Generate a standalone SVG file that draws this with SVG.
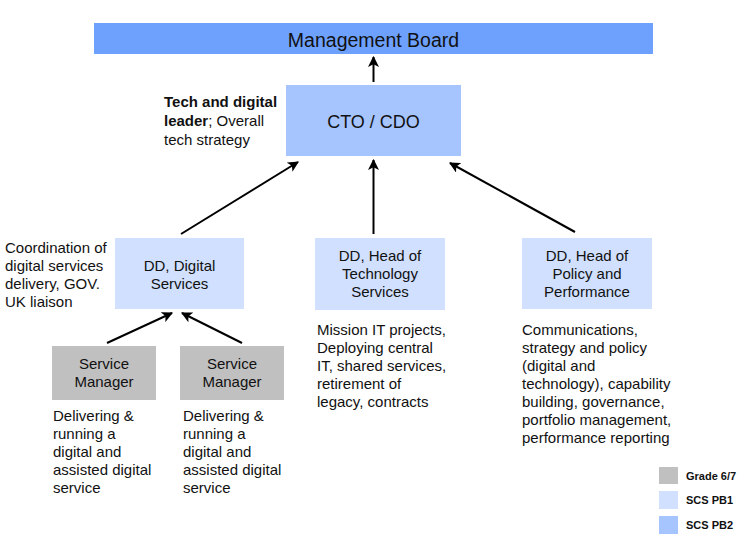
<svg xmlns="http://www.w3.org/2000/svg" width="751" height="545" viewBox="0 0 751 545">
<style>
  text { font-family: "Liberation Sans", Arial, sans-serif; fill: #111; }
  .t14 { font-size: 15px; }
  .c { text-anchor: middle; }
  .pb2 { fill: #a6c4fe; }
  .pb1 { fill: #d0e0fe; }
  .g67 { fill: #c0c0c0; }
  .mb { fill: #6ea1fe; }
  .conn line { stroke: #000; stroke-width: 2; marker-end: url(#ah); }
  .leg { font-size: 11px; font-weight: bold; }
</style>
<defs>
  <marker id="ah" viewBox="0 0 10 10" refX="9" refY="5" markerWidth="5.5" markerHeight="5.5" orient="auto" markerUnits="strokeWidth">
    <path d="M0,0 L10,5 L0,10 L2.5,5 Z" fill="#000"/>
  </marker>
</defs>
<rect width="751" height="545" fill="#fff"/>

<g id="management-board">
  <rect class="mb" x="94" y="23" width="559" height="31"/>
  <text class="c" x="373.5" y="46.5" font-size="19.5">Management Board</text>
</g>

<g id="cto-cdo">
  <rect class="pb2" x="286" y="85" width="175" height="71"/>
  <text class="c" x="373.5" y="128" font-size="18">CTO / CDO</text>
</g>
<g id="cto-note">
  <text class="t14" x="164" y="107"><tspan font-weight="bold">Tech and digital</tspan></text>
  <text class="t14" x="164" y="126"><tspan font-weight="bold">leader</tspan>; Overall</text>
  <text class="t14" x="164" y="145">tech strategy</text>
</g>

<g id="dd-digital">
  <rect class="pb1" x="115" y="238" width="129" height="71"/>
  <text class="c t14" x="179.5" y="271">DD, Digital</text>
  <text class="c t14" x="179.5" y="289">Services</text>
</g>
<g id="dd-digital-note">
  <text class="t14" x="5" y="253">Coordination of</text>
  <text class="t14" x="5" y="271">digital services</text>
  <text class="t14" x="5" y="289">delivery, GOV.</text>
  <text class="t14" x="5" y="307">UK liaison</text>
</g>

<g id="dd-tech">
  <rect class="pb1" x="315" y="238" width="130" height="72"/>
  <text class="c t14" x="380" y="261">DD, Head of</text>
  <text class="c t14" x="380" y="279">Technology</text>
  <text class="c t14" x="380" y="297">Services</text>
</g>
<g id="dd-tech-note">
  <text class="t14" x="317" y="335">Mission IT projects,</text>
  <text class="t14" x="317" y="353">Deploying central</text>
  <text class="t14" x="317" y="371">IT, shared services,</text>
  <text class="t14" x="317" y="389">retirement of</text>
  <text class="t14" x="317" y="407">legacy, contracts</text>
</g>

<g id="dd-policy">
  <rect class="pb1" x="522" y="238" width="130" height="71"/>
  <text class="c t14" x="587" y="261">DD, Head of</text>
  <text class="c t14" x="587" y="279">Policy and</text>
  <text class="c t14" x="587" y="297">Performance</text>
</g>
<g id="dd-policy-note">
  <text class="t14" x="522" y="335">Communications,</text>
  <text class="t14" x="522" y="353">strategy and policy</text>
  <text class="t14" x="522" y="371">(digital and</text>
  <text class="t14" x="522" y="389">technology), capability</text>
  <text class="t14" x="522" y="407">building, governance,</text>
  <text class="t14" x="522" y="425">portfolio management,</text>
  <text class="t14" x="522" y="443">performance reporting</text>
</g>

<g id="service-manager-1">
  <rect class="g67" x="52" y="346" width="104" height="54"/>
  <text class="c t14" x="104" y="369">Service</text>
  <text class="c t14" x="104" y="387">Manager</text>
</g>
<g id="service-manager-1-note">
  <text class="t14" x="53" y="421">Delivering &amp;</text>
  <text class="t14" x="53" y="439">running a</text>
  <text class="t14" x="53" y="457">digital and</text>
  <text class="t14" x="53" y="475">assisted digital</text>
  <text class="t14" x="53" y="493">service</text>
</g>

<g id="service-manager-2">
  <rect class="g67" x="180" y="346" width="104" height="54"/>
  <text class="c t14" x="232" y="369">Service</text>
  <text class="c t14" x="232" y="387">Manager</text>
</g>
<g id="service-manager-2-note">
  <text class="t14" x="183" y="421">Delivering &amp;</text>
  <text class="t14" x="183" y="439">running a</text>
  <text class="t14" x="183" y="457">digital and</text>
  <text class="t14" x="183" y="475">assisted digital</text>
  <text class="t14" x="183" y="493">service</text>
</g>

<g id="connectors" class="conn">
  <line x1="373.5" y1="82" x2="373.5" y2="57"/>
  <line x1="181" y1="234" x2="298" y2="162"/>
  <line x1="373.5" y1="234" x2="373.5" y2="160"/>
  <line x1="575" y1="232" x2="450" y2="163"/>
  <line x1="107" y1="343" x2="172" y2="313"/>
  <line x1="242" y1="343" x2="182" y2="313"/>
</g>

<g id="legend">
  <rect class="g67" x="659" y="467" width="19" height="17"/>
  <text class="leg" x="686" y="480">Grade 6/7</text>
  <rect class="pb1" x="659" y="491" width="19" height="18"/>
  <text class="leg" x="686" y="504">SCS PB1</text>
  <rect class="pb2" x="659" y="516" width="19" height="18"/>
  <text class="leg" x="686" y="529">SCS PB2</text>
</g>
</svg>
